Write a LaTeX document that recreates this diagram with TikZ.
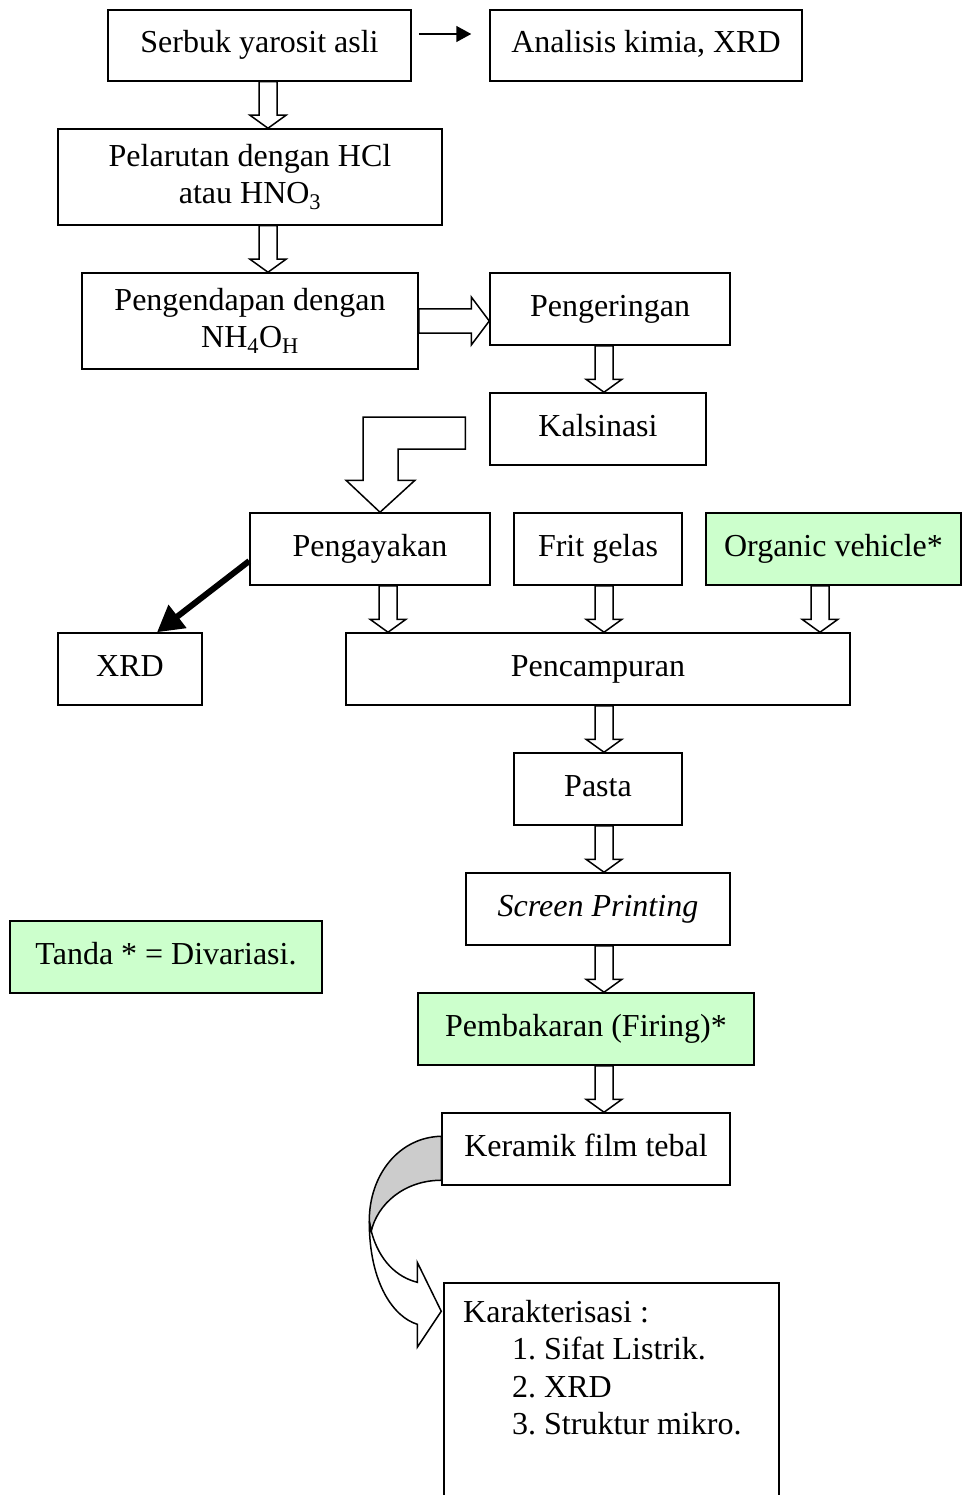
\documentclass[tikz,border=0pt]{standalone}
\usepackage{fontspec}
\setmainfont{Liberation Serif}
\usepackage{tikz}
\usetikzlibrary{calc, arrows.meta}
\frenchspacing
\definecolor{hijau}{HTML}{CCFFCC}
\tikzstyle{kotak} = [draw, rectangle, line width=1.5pt, fill=white, inner sep=0pt, font=\fontsize{32}{38}\selectfont, text height=22pt, text depth=7pt]
\tikzstyle{kotakdua} = [draw, rectangle, line width=1.5pt, fill=white, inner sep=0pt, font=\fontsize{32}{37}\selectfont, align=center]
\tikzstyle{panah} = [line width=1.5pt, -{Triangle[length=15pt,width=16pt]}]
\tikzstyle{panahtebal} = [line width=6pt, -{Triangle[length=26pt,width=28pt]}]

% panah kosong ke bawah: x, dari node, ke node
\newcommand{\panahbawah}[3]{%
  \draw[hollow] let \p1=(#2.south), \p2=(#3.north) in
    ({#1pt-9pt},\y1) -- ({#1pt+9pt},\y1) -- ({#1pt+9pt},{\y2+13pt})
    -- ({#1pt+18pt},{\y2+13pt}) -- (#1pt,\y2) -- ({#1pt-18pt},{\y2+13pt})
    -- ({#1pt-9pt},{\y2+13pt}) -- cycle;}

\begin{document}
\begin{tikzpicture}[x=1pt, y=-1pt, hollow/.style={draw, line width=1.5pt, fill=white, line join=miter}]
\useasboundingbox (0,0) rectangle (963,1495);
\clip (0,0) rectangle (963,1495);

    \node[kotak, minimum width=303pt, minimum height=71pt] (serbuk) at (259.5,45.5) {Serbuk yarosit asli};
    \node[kotak, minimum width=312pt, minimum height=71pt] (analisis) at (646,45.5) {Analisis kimia, XRD};
    \node[kotakdua, minimum width=384pt, minimum height=96pt] (pelarutan) at (250,177) {Pelarutan dengan HCl\\atau HNO\textsubscript{3}};
    \node[kotakdua, minimum width=336pt, minimum height=96pt] (pengendapan) at (250,321) {Pengendapan dengan\\NH\textsubscript{4}O\textsubscript{H}};
    \node[kotak, minimum width=240pt, minimum height=72pt] (pengeringan) at (610,309) {Pengeringan};
    \node[kotak, minimum width=216pt, minimum height=72pt] (kalsinasi) at (598,429) {Kalsinasi};
    \node[kotak, minimum width=240pt, minimum height=72pt] (pengayakan) at (370,549) {Pengayakan};
    \node[kotak, minimum width=168pt, minimum height=72pt] (frit) at (598,549) {Frit gelas};
    \node[kotak, fill=hijau, minimum width=255pt, minimum height=72pt] (organic) at (833.5,549) {Organic vehicle*};
    \node[kotak, minimum width=144pt, minimum height=72pt] (xrd) at (130,669) {XRD};
    \node[kotak, minimum width=504pt, minimum height=72pt] (pencampuran) at (598,669) {Pencampuran};
    \node[kotak, minimum width=168pt, minimum height=72pt] (pasta) at (598,789) {Pasta};
    \node[kotak, minimum width=264pt, minimum height=72pt] (screen) at (598,909) {\textit{Screen Printing}};
    \node[kotak, fill=hijau, minimum width=312pt, minimum height=72pt] (tanda) at (166,957) {Tanda * = Divariasi.};
    \node[kotak, fill=hijau, minimum width=336pt, minimum height=72pt] (pembakaran) at (586,1029) {Pembakaran (Firing)*};
    \node[kotak, minimum width=288pt, minimum height=72pt] (keramik) at (586,1149) {Keramik film tebal};
    \node[draw, line width=1.5pt, anchor=north west, minimum width=335pt, minimum height=240pt, inner sep=0pt] (karakter) at (443,1282) {};
    \node[anchor=north west, inner sep=0pt, align=left, font=\fontsize{32}{37.5}\selectfont] (karakterteks) at (463,1300)
      {Karakterisasi :\\\hspace*{49pt}1. Sifat Listrik.\\\hspace*{49pt}2. XRD\\\hspace*{49pt}3. Struktur mikro.};

    % panah
    \draw[panah] ($(serbuk.east)+(7,-11.5)$) -- ($(analisis.west)+(-18,-11.5)$);
    \draw[panahtebal] ($(pengayakan.west)+(0,12)$) -- ($(xrd.north)+(27,0)$);

    \panahbawah{268}{serbuk}{pelarutan}
    \panahbawah{268}{pelarutan}{pengendapan}
    \panahbawah{604}{pengeringan}{kalsinasi}
    \panahbawah{388}{pengayakan}{pencampuran}
    \panahbawah{604}{frit}{pencampuran}
    \panahbawah{820}{organic}{pencampuran}
    \panahbawah{604}{pencampuran}{pasta}
    \panahbawah{604}{pasta}{screen}
    \panahbawah{604}{screen}{pembakaran}
    \panahbawah{604}{pembakaran}{keramik}

    \draw[hollow] let \p1=(pengendapan.east), \p2=(pengeringan.west) in
      (\x1,{\y1+12pt}) -- ({\x2-18pt},{\y1+12pt}) -- ({\x2-18pt},{\y1+24pt}) -- (\x2,\y1)
      -- ({\x2-18pt},{\y1-24pt}) -- ({\x2-18pt},{\y1-12pt}) -- (\x1,{\y1-12pt}) -- cycle;

    \draw[hollow] let \p1=(kalsinasi.west), \p2=(pengayakan.north) in
      ({\x1-24pt},{\y1+12pt}) -- ({\x2-7pt},{\y1+12pt}) -- ({\x2-7pt},{\y2+32pt})
      -- ({\x2-24pt},{\y2+32pt}) -- ({\x2+10pt},\y2) -- ({\x2+45pt},{\y2+32pt})
      -- ({\x2+28pt},{\y2+32pt}) -- ({\x2+28pt},{\y1-20pt}) -- ({\x1-24pt},{\y1-20pt}) -- cycle;

    \begin{scope}[shift={(keramik.north west)}]
      \draw[hollow, fill=gray!40] (0,24) .. controls (-42,25) and (-72,62) .. (-72,109) -- (-70,119)
        .. controls (-64,92) and (-37,68) .. (0,68) -- cycle;
      \draw[hollow] (-70,119) .. controls (-62,149) and (-44,165) .. (-24,170) -- (-24,150) -- (0,199)
        -- (-24,235) -- (-24,212) .. controls (-47,205) and (-72,172) .. (-72,109) -- cycle;
    \end{scope}
\end{tikzpicture}
\end{document}
